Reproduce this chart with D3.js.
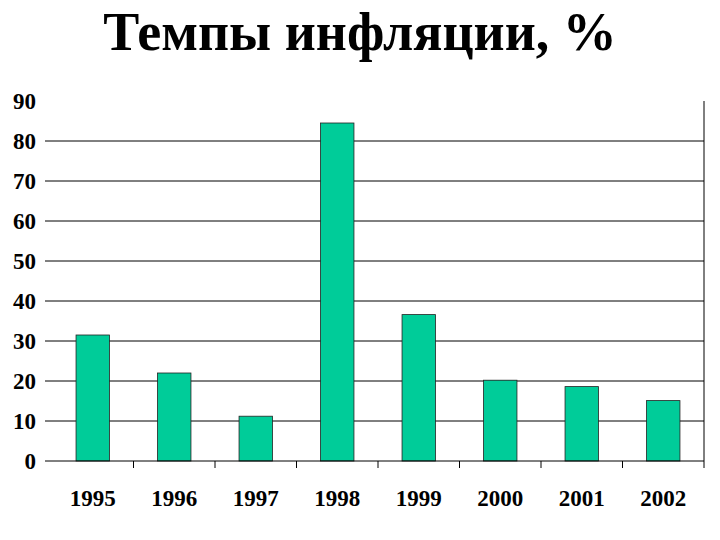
<!DOCTYPE html><html><head><meta charset="utf-8"><script src="https://cdn.jsdelivr.net/npm/d3@7"></script>
<style>body{margin:0;background:#fff}</style></head><body><svg width="720" height="540"></svg><script>
const categories=["1995","1996","1997","1998","1999","2000","2001","2002"];
const values=[31.5,22,11.2,84.5,36.6,20.2,18.6,15.1];
const yTicks=[0,10,20,30,40,50,60,70,80,90];
const svg=d3.select("svg");
const L=52,R=704,T=101,B=461;
const x=d3.scaleBand().domain(categories).range([L,R]).paddingInner(0.59).paddingOuter(0.295);
const y=d3.scaleLinear().domain([0,90]).range([B,T]);
svg.append("text").attr("x",360).attr("y",50).attr("text-anchor","middle").attr("font-family","Liberation Serif").attr("font-weight","bold").attr("font-size",54).text("Темпы инфляции, %");
svg.selectAll(".g").data(yTicks.filter(d=>d>0&&d<90)).join("line").attr("x1",45).attr("x2",R).attr("y1",d=>y(d)).attr("y2",d=>y(d)).attr("stroke","#000");
svg.selectAll(".b").data(values).join("rect").attr("x",(d,i)=>x(categories[i])).attr("width",x.bandwidth()).attr("y",d=>y(d)).attr("height",d=>B-y(d)).attr("fill","#00CC99").attr("stroke","#222").attr("stroke-width",0.8);
svg.append("line").attr("x1",45).attr("x2",R).attr("y1",B).attr("y2",B).attr("stroke","#000");
svg.append("line").attr("x1",R).attr("x2",R).attr("y1",T).attr("y2",B+7).attr("stroke","#000");
const step=x.step();
categories.forEach((c,i)=>{if(i>0)svg.append("line").attr("x1",L+step*i).attr("x2",L+step*i).attr("y1",B).attr("y2",B+7).attr("stroke","#000");});
svg.selectAll(".yl").data(yTicks).join("text").attr("x",36).attr("y",d=>y(d)+8).attr("text-anchor","end").attr("font-family","Liberation Serif").attr("font-weight","bold").attr("font-size",23).text(d=>d);
svg.selectAll(".xl").data(categories).join("text").attr("x",d=>x(d)+x.bandwidth()/2).attr("y",506).attr("text-anchor","middle").attr("font-family","Liberation Serif").attr("font-weight","bold").attr("font-size",23).text(d=>d);
</script></body></html>
